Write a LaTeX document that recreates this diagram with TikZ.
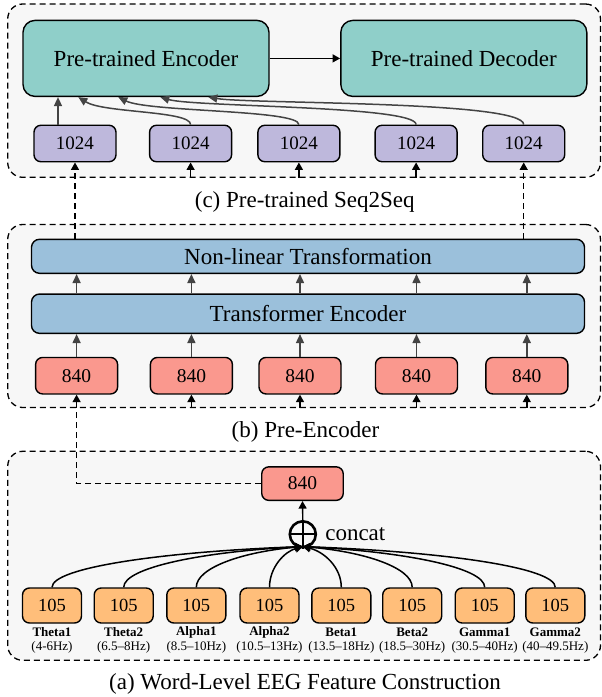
\documentclass[tikz,border=0pt]{standalone}
\usepackage{fontspec}
\setmainfont{Liberation Serif}
\usetikzlibrary{arrows.meta,calc}
\definecolor{tealc}{RGB}{143,207,201}
\definecolor{purpc}{RGB}{190,184,220}
\definecolor{salmc}{RGB}{250,152,142}
\definecolor{bluec}{RGB}{155,192,219}
\definecolor{oranc}{RGB}{255,190,122}
\definecolor{bggc}{RGB}{247,247,247}
\definecolor{arrgc}{RGB}{68,68,68}
\begin{document}
\begin{tikzpicture}[x=1pt,y=-1pt,
  panel/.style={draw=black, dash pattern=on 6pt off 4pt, line width=1.3pt, rounded corners=15pt, fill=bggc, inner sep=0pt},
  bx/.style={draw=black, line width=1.4pt, inner sep=0pt, align=center},
  bigbox/.style={bx, rounded corners=12pt, fill=tealc, minimum width=246pt, minimum height=76pt, font=\fontsize{23}{27}\selectfont},
  kbox/.style={bx, rounded corners=7pt, fill=purpc, minimum width=82pt, minimum height=36.5pt, font=\fontsize{19}{21}\selectfont},
  wbox/.style={bx, rounded corners=8pt, fill=bluec, minimum width=553pt, font=\fontsize{23}{27}\selectfont},
  rbox/.style={bx, rounded corners=7pt, fill=salmc, minimum width=82pt, minimum height=36.5pt, font=\fontsize{19.5}{22}\selectfont},
  fbox/.style={bx, rounded corners=7pt, fill=oranc, minimum width=59pt, minimum height=35pt, font=\fontsize{18.5}{21}\selectfont},
  captxt/.style={inner sep=0pt, font=\fontsize{23}{27}\selectfont},
  bandname/.style={inner sep=0pt, font=\fontsize{13}{15}\selectfont\bfseries},
  bandrange/.style={inner sep=0pt, font=\fontsize{13}{15}\selectfont},
  garrow/.style={draw=arrgc, line width=1.5pt, -{Triangle[length=9pt,width=8pt]}},
  barrow/.style={draw=black, line width=1.4pt, -{Triangle[length=7.5pt,width=8pt]}},
  dashline/.style={barrow, dash pattern=on 6pt off 4pt},
]
\useasboundingbox (0,0) rectangle (602,697);
% panels
\node[panel, minimum width=592.8pt, minimum height=173.3pt] (pc) at (304.1,90.65) {};
\node[panel, minimum width=592.8pt, minimum height=183pt] (pb) at (304.1,316) {};
\node[panel, minimum width=592.8pt, minimum height=209pt] (pa) at (304.1,555.8) {};
% captions
\node[captxt] (capc) at (304.7,202) {(c) Pre-trained Seq2Seq};
\node[captxt] (capb) at (305.5,431.5) {(b) Pre-Encoder};
\node[captxt] (capa) at (305,683.5) {(a) Word-Level EEG Feature Construction};
% (c)
\node[bigbox] (enc) at (146,58.4) {Pre-trained Encoder};
\node[bigbox] (dec) at (463.8,58.4) {Pre-trained Decoder};
\draw[barrow] (enc) -- (dec);
\foreach \i/\x in {1/75,2/190.6,3/298.9,4/416.1,5/523.7}
  \node[kbox] (k\i) at (\x,143.5) {1024};
\coordinate (e2) at ([xshift=56pt]enc.south west);
\coordinate (e3) at ([xshift=96pt]enc.south west);
\coordinate (e4) at ([xshift=138pt]enc.south west);
\coordinate (e5) at ([xshift=186pt]enc.south west);
\draw[garrow] ([xshift=-17pt]k1.north) -- ([xshift=-17pt]k1.north |- enc.south);
\draw[garrow] (k2.north) .. controls +(0,-14) and +(25,16) .. (e2);
\draw[garrow] (k3.north) .. controls +(0,-15) and +(30,15) .. (e3);
\draw[garrow] (k4.north) .. controls +(0,-19) and +(34,10) .. (e4);
\draw[garrow] (k5.north) .. controls +(0,-24) and +(42,7) .. (e5);
% (b)
\node[wbox, minimum height=34pt] (nl) at (308,256.3) {Non-linear Transformation};
\node[wbox, minimum height=39.3pt] (te) at (308,313.7) {Transformer Encoder};
\foreach \i/\x in {1/76.6,2/191.4,3/300,4/416.5,5/526.8}{
  \node[rbox] (r\i) at (\x,375.7) {840};
  \draw[garrow] (r\i.north) -- (r\i.north |- te.south);
  \draw[garrow] (r\i.north |- te.north) -- (r\i.north |- nl.south);
}
\draw[dashline] (k1.south |- nl.north) -- (k1.south);
\draw[dashline] (k5.south |- nl.north) -- (k5.south);
\foreach \i in {2,3,4}
  \draw[barrow] (k\i.south |- pc.south) -- (k\i.south);
\foreach \i in {2,3,4,5}
  \draw[barrow] (r\i.south |- pb.south) -- (r\i.south);
% (a)
\node[rbox, minimum width=81.5pt, minimum height=33.5pt] (m) at (302.5,483.6) {840};
\draw[dashline] (m.west) -| (r1.south);
\node[circle, draw=black, line width=2.6pt, minimum size=26pt, inner sep=0pt] (cc) at (302.8,534.3) {};
\draw[line width=2.3pt] (cc.north) -- (cc.south) (cc.west) -- (cc.east);
\node[captxt, anchor=west] (cl) at ([xshift=8pt]cc.east) {concat};
\draw[barrow] (cc.north) -- (m.south);
\foreach \i/\x/\n/\r in {1/52/Theta1/(4-6Hz),2/123.7/Theta2/(6.5--8Hz),3/196.3/Alpha1/(8.5--10Hz),4/269.5/Alpha2/(10.5--13Hz),5/341.3/Beta1/(13.5--18Hz),6/412.2/Beta2/(18.5--30Hz),7/484.7/Gamma1/(30.5--40Hz),8/555.3/Gamma2/(40--49.5Hz)}{
  \node[fbox] (f\i) at (\x,605.5) {105};
  \node[bandname] (fn\i) at (\x,632) {\n};
  \node[bandrange] (fr\i) at (\x,647.5) {\r};
  \pgfmathsetmacro{\dx}{(302.8-\x)*0.55}
  \draw[barrow, line width=1.5pt] (f\i.north) .. controls +(0,-20) and +(-\dx,5) .. ([yshift=2pt]cc.south);
}
\end{tikzpicture}
\end{document}
